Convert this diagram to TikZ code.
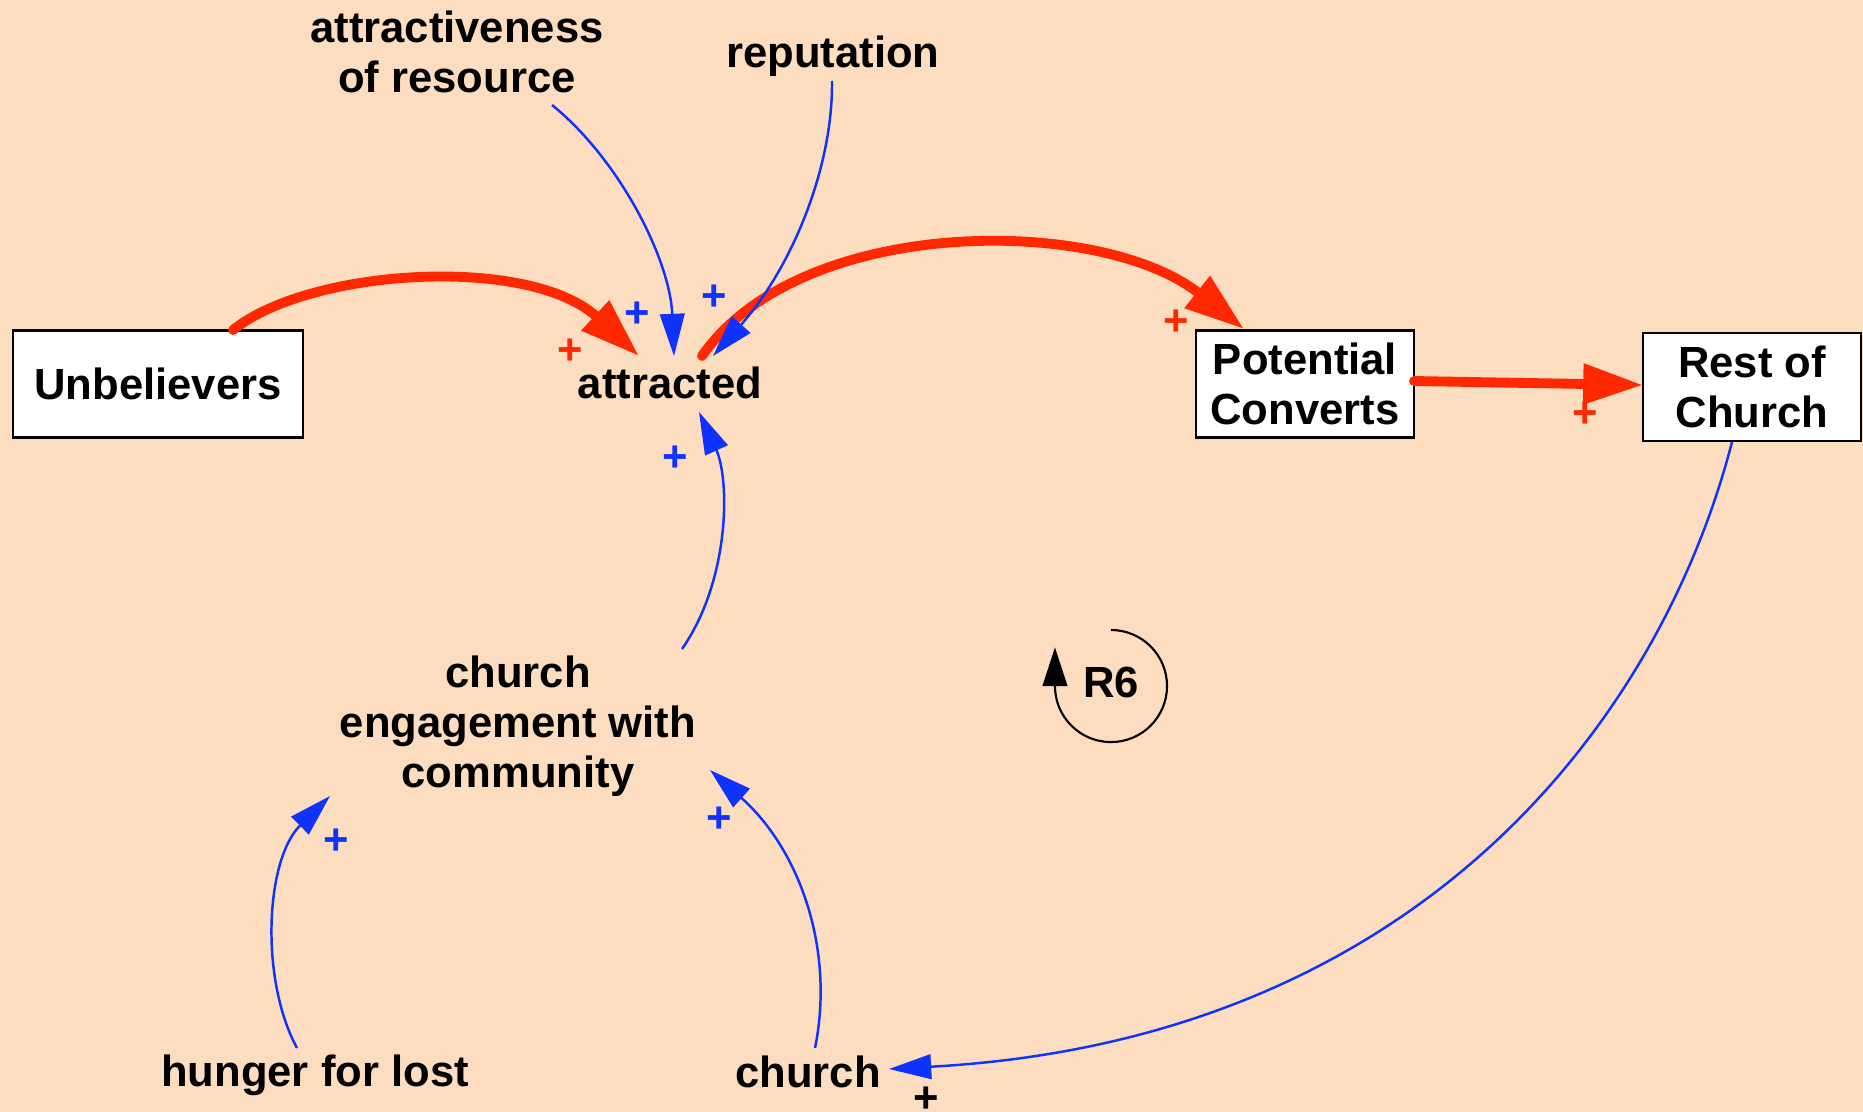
\documentclass[tikz,border=0pt]{standalone}
\usepackage{fontspec}
\setmainfont{Liberation Sans}
\usetikzlibrary{arrows.meta}
\definecolor{bg}{RGB}{252,221,192}
\definecolor{cred}{RGB}{255,40,0}
\definecolor{cblue}{RGB}{16,50,255}
\begin{document}
\begin{tikzpicture}[x=0.01cm,y=-0.01cm,
 every node/.style={font=\fontsize{12.4pt}{14.2pt}\selectfont\bfseries, inner sep=0pt, align=center},
 stock/.style={draw=black, line width=0.6pt, fill=white, minimum height=1.07cm},
 redlink/.style={draw=cred, line width=2.8pt, line cap=round, -{Triangle[length=17pt,width=11pt]}},
 bluelink/.style={draw=cblue, line width=0.7pt, -{Triangle[length=12pt,width=7pt]}},
 redpol/.style={text=cred},
 bluepol/.style={text=cblue},
 blackpol/.style={text=black},
 loopline/.style={draw=black, line width=0.6pt, -{Triangle[length=11pt,width=7pt]}}]
\fill[bg] (0,0) rectangle (1863,1112);
\useasboundingbox (0,0) rectangle (1863,1112);

% stocks
\node[stock, minimum width=2.90cm] (unb) at (158,384) {Unbelievers};
\node[stock, minimum width=2.18cm] (pc) at (1305,384) {Potential\\Converts};
\node[stock, minimum width=2.18cm, minimum height=1.08cm] (rc) at (1752,387) {Rest of\\Church};

% variables
\node (attr) at (670,383) {attracted};
\node (atres) at (457,52) {attractiveness\\of resource};
\node (rep) at (833,56) {reputation};
\node (eng) at (518,726) {church\\engagement with\\community};
\node (hung) at (315,1075) {hunger for lost};
\node (church) at (808,1072) {church};
\node (r6) at (1111,682) {R6};

% red flows
\draw[redlink] ([shift={(75,-54)}]unb.center) .. controls (310,268) and (530,255) .. ([shift={(-31,-27)}]attr.center);
\draw[redlink] ([shift={(32,-27)}]attr.center) .. controls (800,215) and (1100,215) .. ([shift={(-61,-55)}]pc.center);
\draw[redlink] ([shift={(109,-3)}]pc.center) -- ([shift={(-109,-2)}]rc.center);

% blue links
\draw[bluelink] ([shift={(95,53)}]atres.center) .. controls (620,160) and (670,260) .. ([shift={(4,-27)}]attr.center);
\draw[bluelink] ([shift={(-1,25)}]rep.center) .. controls (833,170) and (790,270) .. ([shift={(43,-27)}]attr.center);
\draw[bluelink] ([shift={(164,-77)}]eng.center) .. controls (730,580) and (730,480) .. ([shift={(29,29)}]attr.center);
\draw[bluelink] ([shift={(-18,-27)}]hung.center) .. controls (260,980) and (265,860) .. ([shift={(-188,70)}]eng.center);
\draw[bluelink] ([shift={(7,-24)}]church.center) .. controls (835,950) and (800,850) .. ([shift={(192,44)}]eng.center);
\draw[bluelink] ([shift={(-20,55)}]rc.center) .. controls (1660,720) and (1420,1040) .. ([shift={(81,-3)}]church.center);

% loop marker
\draw[loopline] ([shift={(0,4)}]r6.center) ++(0,-56) arc[start angle=90, end angle=-180, radius=0.56cm] -- ++(0pt,11pt);

% polarities
\node[redpol] (p1) at (570,352) {+};
\node[bluepol] (p2) at (637,315) {+};
\node[bluepol] (p3) at (714,298) {+};
\node[redpol] (p4) at (1176,323) {+};
\node[redpol] (p5) at (1585,415) {+};
\node[bluepol] (p6) at (675,459) {+};
\node[bluepol] (p7) at (336,842) {+};
\node[bluepol] (p8) at (719,820) {+};
\node[blackpol] (p9) at (926,1100) {+};
\end{tikzpicture}
\end{document}
